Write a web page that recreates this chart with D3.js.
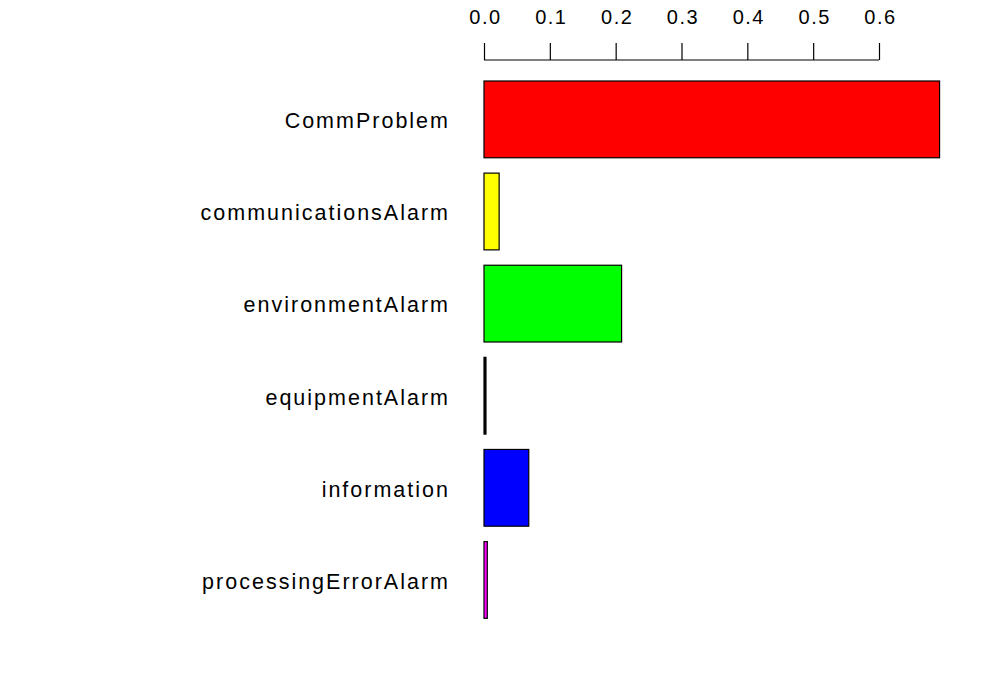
<!DOCTYPE html>
<html>
<head>
<meta charset="utf-8">
<script src="https://cdn.jsdelivr.net/npm/d3@7"></script>
<style>
  html, body { margin: 0; padding: 0; background: #fff; }
  svg { display: block; }
  text { font-family: "Liberation Sans", Arial, Helvetica, sans-serif; fill: #000; }
</style>
</head>
<body>
<svg id="chart" width="1000" height="700"></svg>
<script>
const categories = ["CommProblem", "communicationsAlarm", "environmentAlarm", "equipmentAlarm", "information", "processingErrorAlarm"];
const values = [0.692, 0.023, 0.209, 0.003, 0.068, 0.005];
const colors = ["#ff0000", "#ffff00", "#00ff00", "#000000", "#0000ff", "#ff00ff"];
const tickValues = [0.0, 0.1, 0.2, 0.3, 0.4, 0.5, 0.6];

const svg = d3.select("#chart");

const x = d3.scaleLinear().domain([0, 0.6]).range([484, 879]);
const y = d3.scaleBand().domain(categories).range([73.33, 626])
  .paddingInner(1/6).paddingOuter(1/12);

// bars
svg.append("g").selectAll("rect")
  .data(categories)
  .join("rect")
  .attr("x", x(0))
  .attr("y", d => y(d))
  .attr("width", (d, i) => Math.max(0, x(values[i]) - x(0)))
  .attr("height", y.bandwidth())
  .attr("fill", (d, i) => colors[i])
  .attr("stroke", "#000")
  .attr("stroke-width", 1.2);

// category labels
svg.append("g").selectAll("text")
  .data(categories)
  .join("text")
  .attr("x", 450)
  .attr("y", d => y(d) + y.bandwidth() / 2 + 8.8)
  .attr("text-anchor", "end")
  .style("font-size", "21.5px")
  .style("letter-spacing", "2px")
  .text(d => d);

// top axis
const axis = d3.axisTop(x)
  .tickValues(tickValues)
  .tickFormat(d3.format(".1f"))
  .tickSize(17)
  .tickPadding(20);
const gAxis = svg.append("g").attr("transform", "translate(0,60)").call(axis);
gAxis.select(".domain").attr("d", `M${x(0)},0H${x(0.6)}`).attr("stroke", "#000").attr("stroke-width", 1.2);
gAxis.selectAll(".tick line").attr("stroke", "#000").attr("stroke-width", 1.2);
gAxis.selectAll(".tick text")
  .attr("y", -36)
  .attr("dy", 0)
  .attr("dx", 1)
  .style("font-size", "20px")
  .style("letter-spacing", "1.5px")
  .style("font-family", "'Liberation Sans', Arial, Helvetica, sans-serif")
  .attr("fill", "#000");
</script>
</body>
</html>
